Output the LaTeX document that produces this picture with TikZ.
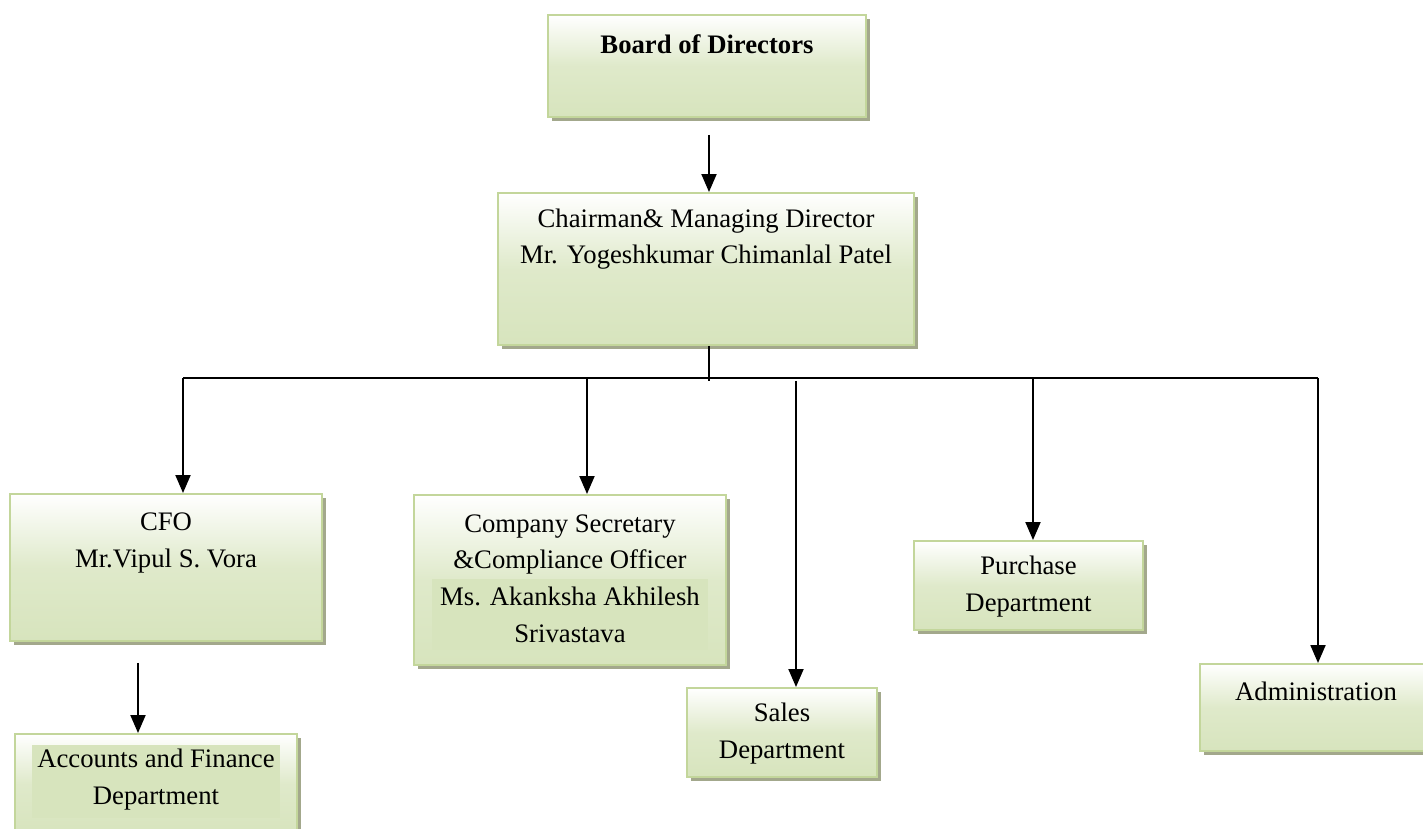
\documentclass[tikz,border=0pt]{standalone}
\usepackage{fontspec}
\setmainfont{Liberation Serif}
\usetikzlibrary{arrows.meta,shadows}
\definecolor{boxgreen}{HTML}{D7E4BD}
\definecolor{boxedge}{HTML}{C3D69B}
\definecolor{shadowgreen}{HTML}{A3A88C}

\begin{document}
\begin{tikzpicture}[
  orgbox/.style={rectangle, draw=boxedge, line width=1.1pt, inner sep=0pt,
      top color=white, bottom color=boxgreen, middle color=boxgreen!80!white,
      drop shadow={shadow xshift=0.08cm, shadow yshift=-0.08cm,
                   fill=shadowgreen, opacity=1}},
  namebar/.style={rectangle, fill=boxgreen, inner sep=0pt},
  orgtext/.style={align=center, inner sep=0pt,
      font=\fontsize{15.2}{20.8}\selectfont},
  link/.style={line width=1.1pt},
  feed/.style={line width=1.1pt, -{Triangle[length=0.36cm, width=0.3cm]}}]

\useasboundingbox (0,0) rectangle (28.46,16.58);

\node[orgbox, minimum width=6.36cm, minimum height=2.04cm] 
(board) at (14.14, 15.26) {};
\node[orgtext] (boardtxt) at (14.14, 15.70) {\textbf{Board of Directors}};

\node[orgbox, minimum width=8.32cm, minimum height=3.04cm] 
(chair) at (14.12, 11.20) {};
\node[orgtext] (chairtxt) at (14.12, 11.80)
      {Chairman\& Managing Director\\Mr. Yogeshkumar Chimanlal Patel};

\node[orgbox, minimum width=6.24cm, minimum height=2.94cm] 
(cfo) at (3.32, 5.23) {};
\node[orgtext] (cfotxt) at (3.32, 5.72) {CFO\\Mr.Vipul S. Vora};

\node[orgbox, minimum width=6.24cm, minimum height=3.40cm] 
(cs) at (11.40, 4.98) {};
\node[namebar, minimum width=5.52cm, minimum height=1.42cm] 
(csbar) at (11.40, 4.29) {};
\node[orgtext] (cstxt) at (11.40, 5.01)
      {Company Secretary\\\&Compliance Officer\\Ms. Akanksha Akhilesh\\Srivastava};

\node[orgbox, minimum width=3.80cm, minimum height=1.78cm] 
(sales) at (15.64, 1.93) {};
\node[orgtext] (salestxt) at (15.64, 1.91) {Sales\\Department};

\node[orgbox, minimum width=4.58cm, minimum height=1.78cm] 
(purchase) at (20.57, 4.87) {};
\node[orgtext] (purchasetxt) at (20.57, 4.85) {Purchase\\Department};

\node[orgbox, minimum width=4.60cm, minimum height=1.74cm] 
(admin) at (26.30, 2.43) {};
\node[orgtext] (admintxt) at (26.32, 2.76) {Administration};

\node[orgbox, minimum width=5.64cm, minimum height=2.00cm] 
(acc) at (3.12, 0.90) {};
\node[namebar, minimum width=4.96cm, minimum height=1.46cm] 
(accbar) at (3.12, 0.95) {};
\node[orgtext] (acctxt) at (3.12, 0.99) {Accounts and Finance\\Department};

% bus below the chairman
\coordinate (boardout) at (14.18, 13.88);
\coordinate (hub) at (14.18, 8.96);
\coordinate (busL) at (3.66, 9.02);
\coordinate (busR) at (26.36, 9.02);
\coordinate (csdrop) at (11.74, 9.02);
\coordinate (salesdrop) at (15.92, 8.96);
\coordinate (buydrop) at (20.66, 9.02);
\coordinate (accdrop) at (2.76, 3.32);

\draw[feed] (boardout) -- (boardout |- chair.north);
\draw[link] (hub |- chair.south) -- (hub);
\draw[link] (busL) -- (busR);
\draw[feed] (busL) -- (busL |- cfo.north);
\draw[feed] (csdrop) -- (csdrop |- cs.north);
\draw[feed] (salesdrop) -- (salesdrop |- sales.north);
\draw[feed] (buydrop) -- (buydrop |- purchase.north);
\draw[feed] (busR) -- (busR |- admin.north);
\draw[feed] (accdrop) -- (accdrop |- acc.north);

\end{tikzpicture}
\end{document}
